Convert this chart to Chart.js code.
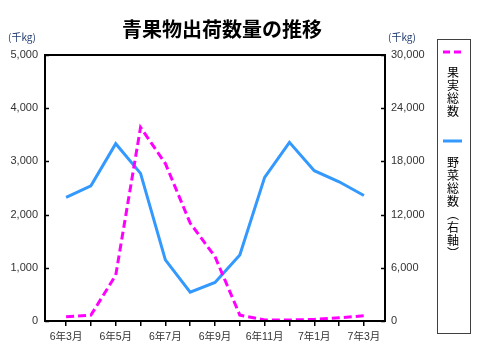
<!DOCTYPE html>
<html>
<head>
<meta charset="utf-8">
<script src="https://cdn.jsdelivr.net/npm/chart.js@4"></script>
<style>
html,body{margin:0;padding:0;background:#fff;}
#wrap{width:480px;height:360px;position:relative;}
</style>
</head>
<body>
<div id="wrap"><canvas id="c" width="480" height="360"></canvas></div>
<script>
const months = ['6年3月','6年4月','6年5月','6年6月','6年7月','6年8月','6年9月','6年10月','6年11月','6年12月','7年1月','7年2月','7年3月'];
const fruitTotal = [80, 110, 860, 3640, 2960, 1840, 1210, 110, 20, 20, 30, 60, 100];
const vegTotal = [13950, 15250, 20000, 16650, 6900, 3250, 4350, 7450, 16200, 20150, 16950, 15700, 14150];
const leftTicks = [0, 1000, 2000, 3000, 4000, 5000];
const rightTicks = [0, 6000, 12000, 18000, 24000, 30000];
const titleText = '青果物出荷数量の推移';
const unitText = '(千kg)';
const fruitLabel = '果実総数';
const vegLabel = '野菜総数︵右軸︶';

const FONT = "'Liberation Sans', 'Noto Sans CJK JP', sans-serif";
const JFONT = "'Noto Sans CJK JP', sans-serif";
const MAGENTA = '#FF00FF';
const BLUE = '#3399FF';

const decor = {
  id: 'decor',
  afterDraw(chart) {
    const ctx = chart.ctx;
    const a = chart.chartArea;
    ctx.save();
    ctx.strokeStyle = '#000';
    ctx.lineWidth = 2;
    ctx.strokeRect(a.left, a.top, a.right - a.left, a.bottom - a.top);
    ctx.lineWidth = 1.5;
    const yl = chart.scales.y, yr = chart.scales.y2;
    leftTicks.forEach(v => {
      const p = Math.round(yl.getPixelForValue(v)) + 0.5;
      ctx.beginPath(); ctx.moveTo(a.left, p); ctx.lineTo(a.left + 4, p); ctx.stroke();
    });
    rightTicks.forEach(v => {
      const p = Math.round(yr.getPixelForValue(v)) + 0.5;
      ctx.beginPath(); ctx.moveTo(a.right - 4, p); ctx.lineTo(a.right, p); ctx.stroke();
    });
    // y tick labels
    ctx.fillStyle = '#333';
    ctx.font = "11px " + FONT;
    ctx.textBaseline = 'middle';
    ctx.textAlign = 'right';
    leftTicks.forEach(v => ctx.fillText(v.toLocaleString('en-US'), a.left - 7, yl.getPixelForValue(v)));
    ctx.textAlign = 'left';
    rightTicks.forEach(v => ctx.fillText(v.toLocaleString('en-US'), a.right + 6, yr.getPixelForValue(v)));
    // title
    ctx.fillStyle = '#000';
    ctx.font = "bold 20px " + JFONT;
    ctx.textAlign = 'center';
    ctx.fillText(titleText, 222, 29);
    // units
    ctx.font = "10px " + JFONT;
    ctx.fillStyle = '#1F3A6E';
    ctx.textAlign = 'left';
    ctx.fillText(unitText, 8, 37);
    ctx.fillText(unitText, 388, 37);
    // legend box
    ctx.strokeStyle = '#404040';
    ctx.lineWidth = 1;
    ctx.strokeRect(437.5, 39.5, 33, 294);
    const ds = chart.data.datasets;
    ctx.strokeStyle = ds[0].borderColor;
    ctx.lineWidth = 3;
    ctx.setLineDash([7, 4]);
    ctx.beginPath(); ctx.moveTo(443, 52); ctx.lineTo(462, 52); ctx.stroke();
    ctx.setLineDash([]);
    ctx.strokeStyle = ds[1].borderColor;
    ctx.beginPath(); ctx.moveTo(443, 141); ctx.lineTo(462, 141); ctx.stroke();
    ctx.fillStyle = '#000';
    ctx.font = "12px " + JFONT;
    ctx.textAlign = 'center';
    Array.from(ds[0].label).forEach((ch, i) => ctx.fillText(ch, 453, 72 + i * 13));
    Array.from(ds[1].label).forEach((ch, i) => ctx.fillText(ch, 453, 162 + i * 13));
    ctx.restore();
  }
};

new Chart(document.getElementById('c'), {
  type: 'line',
  data: {
    datasets: [
      {
        label: fruitLabel,
        data: fruitTotal.map((v, i) => ({x: i, y: v})),
        borderColor: MAGENTA,
        borderWidth: 3,
        borderDash: [8, 4],
        pointRadius: 0,
        tension: 0,
        yAxisID: 'y',
        fill: false
      },
      {
        label: vegLabel,
        data: vegTotal.map((v, i) => ({x: i, y: v})),
        borderColor: BLUE,
        borderWidth: 3,
        pointRadius: 0,
        tension: 0,
        yAxisID: 'y2',
        fill: false
      }
    ]
  },
  options: {
    responsive: false,
    animation: false,
    devicePixelRatio: 1,
    layout: {padding: {top: 55, left: 0, right: 50, bottom: 0}},
    plugins: {legend: {display: false}, title: {display: false}, tooltip: {enabled: false}},
    scales: {
      x: {
        type: 'linear',
        min: -0.85,
        max: 12.85,
        afterFit(s) { s.height = 39; },
        border: {display: false},
        grid: {drawOnChartArea: false, drawTicks: true, tickLength: 5, color: '#000', lineWidth: 1.5},
        ticks: {
          stepSize: 1,
          includeBounds: false,
          autoSkip: false,
          maxRotation: 0,
          padding: 5,
          color: '#333',
          font: {family: FONT, size: 10.5},
          callback: (v) => (Number.isInteger(v) && v % 2 === 0 && months[v]) ? months[v] : ''
        }
      },
      y: {
        position: 'left',
        min: 0, max: 5000,
        afterFit(s) { s.width = 45; },
        afterBuildTicks(s) { s.ticks = leftTicks.map(v => ({value: v})); },
        border: {display: false},
        grid: {display: false},
        ticks: {display: false}
      },
      y2: {
        position: 'right',
        min: 0, max: 30000,
        afterFit(s) { s.width = 45; },
        afterBuildTicks(s) { s.ticks = rightTicks.map(v => ({value: v})); },
        border: {display: false},
        grid: {display: false},
        ticks: {display: false}
      }
    }
  },
  plugins: [decor]
});
</script>
</body>
</html>
